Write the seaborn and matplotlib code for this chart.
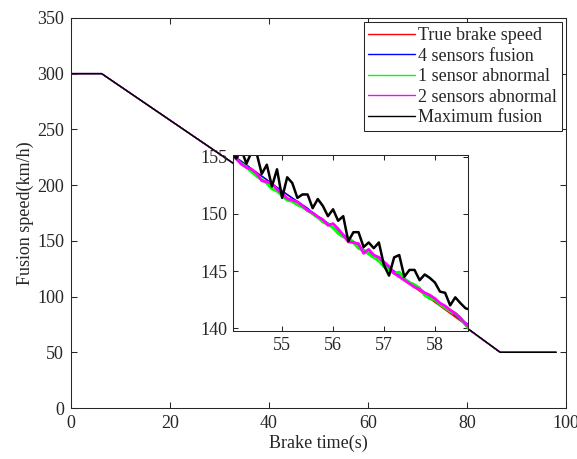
import matplotlib
matplotlib.use("Agg")
import matplotlib.pyplot as plt
import seaborn as sns
import pandas as pd

# ---------------- data ----------------
# coarse breakpoints outside the zoomed window
t_head = [0.0, 6.2]
v_head = [300.0, 300.0]
t_tail = [86.7, 98.0]
v_tail = [50.0, 50.0]

# detailed samples inside the zoomed window
t_inset = [54.0, 54.1, 54.2, 54.3, 54.4, 54.5, 54.6, 54.7, 54.8, 54.9,
           55.0, 55.1, 55.2, 55.3, 55.4, 55.5, 55.6, 55.7, 55.8, 55.9,
           56.0, 56.1, 56.2, 56.3, 56.4, 56.5, 56.6, 56.7, 56.8, 56.9,
           57.0, 57.1, 57.2, 57.3, 57.4, 57.5, 57.6, 57.7, 57.8, 57.9,
           58.0, 58.1, 58.2, 58.3, 58.4, 58.5, 58.6, 58.7]

true_t = [54.0, 58.7]
true_v = [155.25, 140.0]

four_sensors = [155.2, 154.9, 154.6, 154.3, 153.9, 153.6, 153.3, 153.0, 152.6, 152.3,
                152.0, 151.7, 151.4, 151.1, 150.8, 150.5, 150.1, 149.8, 149.5, 149.2,
                148.8, 148.6, 148.2, 147.9, 147.6, 147.2, 146.9, 146.6, 146.3, 146.0,
                145.6, 145.3, 145.0, 144.7, 144.4, 144.0, 143.7, 143.4, 143.1, 142.7,
                142.4, 142.1, 141.8, 141.5, 141.1, 140.8, 140.5, 140.2]

one_abnormal = [155.2, 154.8, 154.4, 154.1, 153.7, 153.3, 153.0, 152.7, 152.2, 152.0,
                151.6, 151.2, 151.1, 150.8, 150.6, 150.3, 150.0, 149.7, 149.3, 149.1,
                148.8, 148.3, 148.0, 147.9, 147.5, 147.0, 146.8, 146.5, 146.2, 145.9,
                145.4, 145.1, 144.8, 144.9, 144.3, 144.0, 143.8, 143.5, 142.9, 142.6,
                142.5, 142.1, 141.8, 141.5, 141.3, 140.9, 140.3, 139.8]

two_abnormal = [155.3, 154.85, 154.35, 154.05, 153.9, 153.55, 152.9, 152.8, 152.65, 152.15,
                151.8, 151.35, 151.2, 151.05, 150.7, 150.3, 150.1, 149.75, 149.5, 149.0,
                149.15, 148.7, 148.15, 147.55, 147.5, 147.4, 146.55, 146.9, 146.4, 146.2,
                145.8, 145.4, 144.8, 144.5, 144.2, 143.9, 143.6, 143.4, 143.1, 142.9,
                142.6, 142.2, 141.95, 141.6, 141.3, 140.9, 140.4, 140.0]

max_fusion = [155.4, 154.85, 155.6, 154.4, 155.4, 155.3, 153.5, 154.3, 152.4, 153.9,
              151.4, 153.2, 152.7, 151.4, 151.7, 151.7, 150.5, 151.3, 150.7, 149.8,
              150.4, 149.4, 149.8, 147.6, 148.4, 148.4, 147.1, 147.5, 147.0, 147.5,
              145.5, 144.6, 146.2, 146.4, 144.5, 145.1, 145.1, 144.2, 144.7, 144.4,
              144.0, 143.2, 143.1, 142.0, 142.7, 142.2, 141.75, 141.6]

labels = ["True brake speed", "4 sensors fusion", "1 sensor abnormal",
          "2 sensors abnormal", "Maximum fusion"]
colors = ["#ff0000", "#0000ff", "#00ff00", "#ff00ff", "#000000"]

x_ticks = [0, 20, 40, 60, 80, 100]
y_ticks = [0, 50, 100, 150, 200, 250, 300, 350]
inset_x_ticks = [55, 56, 57, 58]
inset_y_ticks = [140, 145, 150, 155]

# ---------------- build table ----------------
series = [
    (true_t, true_v),
    (t_inset, four_sensors),
    (t_inset, one_abnormal),
    (t_inset, two_abnormal),
    (t_inset, max_fusion),
]
frames = []
for lab, (tt, vv) in zip(labels, series):
    t_all = t_head + list(tt) + t_tail
    v_all = v_head + list(vv) + v_tail
    frames.append(pd.DataFrame({"time": t_all, "speed": v_all, "series": lab}))
df = pd.concat(frames, ignore_index=True)

# ---------------- style ----------------
sns.set_style("ticks")
plt.rcParams["font.family"] = ["Liberation Serif", "DejaVu Serif"]
text_col = "#262626"

fig = plt.figure(figsize=(5.77, 4.59), dpi=100)
ax = fig.add_axes([0.123, 0.111, 0.858, 0.850])

main_lw = [1.0, 1.0, 1.0, 1.0, 1.0]
for lab, col, lw in zip(labels, colors, main_lw):
    sns.lineplot(data=df[df.series == lab], x="time", y="speed", color=col,
                 lw=lw, sort=False, estimator=None, ax=ax, label=lab)

ax.set_xlim(0, 100)
ax.set_ylim(0, 350)
ax.set_xticks(x_ticks)
ax.set_yticks(y_ticks)
ax.set_xlabel("Brake time(s)", fontsize=13, color=text_col, labelpad=2)
ax.set_ylabel("Fusion speed(km/h)", fontsize=13, color=text_col, labelpad=2)
ax.tick_params(direction="in", length=4.5, width=0.75, labelsize=13,
               colors=text_col, top=True, right=True, pad=5)
for s in ax.spines.values():
    s.set_visible(True)
    s.set_linewidth(0.75)
    s.set_color("#262626")

leg = ax.legend(loc="upper right", fontsize=13, frameon=True, fancybox=False,
                framealpha=1, edgecolor="#262626", handlelength=2.6,
                handletextpad=0.15, labelspacing=0.2, borderpad=0.25,
                borderaxespad=0.25)
leg.get_frame().set_linewidth(0.75)
for t in leg.get_texts():
    t.set_color(text_col)

# ---------------- inset ----------------
axin = fig.add_axes([0.4033, 0.2789, 0.4078, 0.3834])
axin.set_facecolor("white")
inset_lw = [1.0, 1.0, 2.2, 2.0, 1.8]
for lab, col, lw in zip(labels, colors, inset_lw):
    sns.lineplot(data=df[df.series == lab], x="time", y="speed", color=col,
                 lw=lw, sort=False, estimator=None, ax=axin, legend=False)
axin.set_xlim(54.03, 58.65)
axin.set_ylim(139.76, 155.15)
axin.set_xticks(inset_x_ticks)
axin.set_yticks(inset_y_ticks)
axin.set_xlabel("")
axin.set_ylabel("")
axin.tick_params(direction="in", length=3.5, width=0.75, labelsize=13,
                 colors=text_col, top=True, right=True, pad=4)
for s in axin.spines.values():
    s.set_visible(True)
    s.set_linewidth(0.75)
    s.set_color("#262626")

fig.savefig("out.png", dpi=100)
